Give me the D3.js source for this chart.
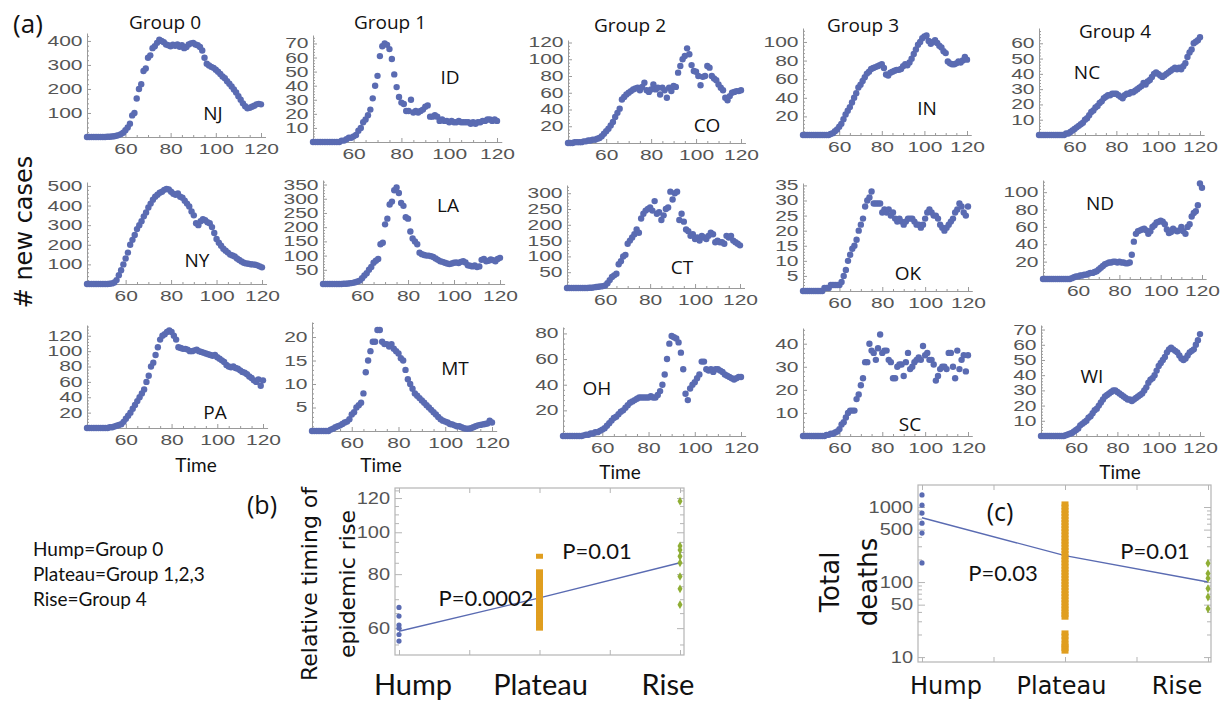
<!DOCTYPE html>
<html>
<head>
<meta charset="utf-8">
<script src="https://cdnjs.cloudflare.com/ajax/libs/d3/7.8.5/d3.min.js"></script>
<style>
  body { margin: 0; background: #fff; }
  svg { display: block; }
</style>
</head>
<body>
<svg id="chart" width="1221" height="702"></svg>
<script>
// ---- DATA: daily new cases, days 43..120 ----
const firstDay = 43, lastDay = 120;

const nj = [0,0,0,0,0,0,0,
  0,0,1,1,2,3,5,8,12,18,
  28,40,55,90,100,160,200,220,275,285,
  330,340,370,378,392,405,400,395,385,382,
  378,384,380,385,376,382,370,375,385,390,
  392,385,382,375,360,330,305,298,292,288,
  280,272,262,252,245,232,222,210,198,185,
  170,155,140,128,120,122,126,130,136,138,136];
const ny = [0,0,0,0,0,0,0,
  0,0,0,1,3,8,20,45,70,100,
  130,160,200,225,250,280,300,320,345,365,
  390,410,430,445,455,465,470,480,485,482,
  470,460,455,462,445,440,425,410,395,370,
  350,310,300,320,330,325,315,310,290,260,
  230,210,195,180,170,160,150,145,140,130,
  122,115,108,105,103,101,100,98,95,90,85];
const pa = [0,0,0,0,0,0,0,
  0,0,0,1,1,2,3,4,5,8,
  12,16,20,25,30,35,40,45,50,60,
  68,80,85,95,105,115,120,122,125,127,
  125,120,115,105,104,103,103,102,100,100,
  101,102,100,99,98,97,96,95,94,95,
  92,90,88,86,82,80,79,80,78,77,
  75,73,72,70,67,65,62,60,63,55,62];
const id = [0,0,0,0,0,0,0,
  0,0,0,0,0,1,1,2,3,3,
  4,5,8,10,14,16,19,23,31,40,
  47,61,68,70,69,66,59,48,39,32,
  28,27,22,22,30,21,22,21,22,23,
  25,26,18,18,19,18,15,16,15,15,
  14,15,14,14,15,14,14,14,14,13,
  14,13,14,14,15,15,16,16,15,16,15];
const la = [0,0,0,0,0,0,0,
  0,0,1,1,2,3,4,6,9,12,
  20,30,38,50,60,75,82,88,140,145,
  210,230,280,290,330,340,320,285,275,235,
  230,185,160,150,140,110,105,102,100,100,
  98,95,90,85,80,78,75,72,70,72,
  75,76,74,78,80,76,66,64,62,65,
  60,62,85,88,80,82,86,84,80,88,92];
const mt = [0,0,0,0,0,0,0,
  0,0.3,0.5,0.8,1,1.2,1.5,1.8,2,2.5,
  3.5,4,5,5.5,6,8,12.5,15,17,19,
  19,21.5,21.5,19,18.5,18.5,18,18.5,17.5,17,
  16.5,15.5,15,13,11,10,9,8,7.5,7,
  6.5,6,5.5,5,4.5,4,3.5,3,2.5,2.2,
  2,1.8,1.5,1.4,1.2,1,1,0.8,0.6,0.5,
  0.5,0.6,0.8,1,1.2,1.3,1.4,1.5,1.6,2.2,1.8];
const co = [0,0,0,1,1,1,1,
  2,2,3,3,4,4,5,6,8,11,
  14,17,21,25,31,36,41,52,55,58,
  60,62,64,65,66,63,67,72,63,61,
  64,70,64,66,58,66,63,54,66,62,
  68,67,84,92,100,104,113,106,93,86,
  85,80,69,79,80,92,90,80,77,75,
  70,66,63,54,51,56,60,61,62,62,63];
const ct = [0,0,0,0,0,0,0,
  0,0,0,1,1,2,3,4,5,6,
  8,15,25,35,40,45,75,85,100,105,
  140,150,160,170,185,175,220,235,245,250,
  255,245,275,235,240,215,230,250,255,305,
  280,300,305,215,235,210,185,180,165,170,
  155,160,150,165,160,155,165,175,170,145,
  150,145,145,140,165,160,165,150,145,140,135];
const oh = [0,0,0,0,0,0,0,
  0,0,0.5,1,1,2,2,3,3,4,
  5,6,8,10,12,14,15,17,19,20,
  22,24,26,27,28,29,30,30,30,30,
  30,31,30,30,32,35,40,48,60,72,
  78,77,76,73,65,52,33,28,37,40,
  42,45,48,58,58,52,51,52,50,52,
  52,51,50,48,47,46,45,44,45,46,46];
const ind = [0,0,0,0,0,0,0,
  0,0,0,0,0,0,1,2,4,6,
  9,12,17,22,26,30,35,40,45,51,
  54,58,62,66,68,71,72,73,74,75,
  76,72,65,64,67,68,69,70,70,71,
  74,76,75,78,82,87,92,97,100,104,
  106,107,101,98,100,102,99,96,94,90,
  88,79,77,76,76,77,79,78,80,84,81];
const ok = [0,0,0,0,0,0,0,
  0,0,0,1,1,1,2,2,2,2,
  2,3,5,7,10,12,14,15,17,20,
  22,24,28,30,31,33,29,29,29,29,
  26,27,26,27,25,26,24,23,24,23,
  22,23,24,24,24,23,22,22,21,22,
  24,26,27,26,25,25,24,22,21,20,
  21,22,23,24,26,27,29,28,26,25,28];
const sc = [0,0,0,0,0,0,0,
  0,0,0,0,0.5,0.5,1,1,1.5,2,
  3,5,6,8,10,11,11,11,16,18,
  22,25,32,32,40,37,36,33,38,44,
  36,37,37,33,32,25,25,30,31,31,
  26,32,36,29,30,32,33,34,33,39,
  35,36,33,33,31,24,26,29,30,30,
  29,36,36,30,25,37,29,33,35,28,35];
const nc = [0,0,0,0,0,0,0,
  0,0,0,0,0,0,1,1,2,3,
  4,5,6,7,8,10,11,13,15,16,
  18,19,21,22,24,25,26,26,27,27,
  27,26,25,24,26,27,27,28,28,29,
  30,31,32,34,33,35,36,38,40,41,
  40,39,38,39,40,41,42,43,44,43,
  44,43,45,47,51,54,56,60,61,62,64];
const nd = [0,0,0,0,0,0,0,
  0,0,0,0,0,0,0,1,2,3,
  3,4,4,5,5,6,7,7,8,9,
  11,13,15,17,18,19,19,20,20,19,
  20,19,19,18,18,19,28,43,52,55,
  56,57,58,56,52,55,60,62,65,66,
  67,66,63,57,53,54,58,56,55,56,
  60,55,52,60,63,72,76,78,85,110,105];
const wi = [0,0,0,0,0,0,0,
  0,0,0,0,0,0.5,1,1.5,2,3,
  4,5,7,8,9,10,12,13,15,17,
  18,20,22,24,26,27,28,29,30,30,
  29,28,27,26,25,24,24,23,24,25,
  26,27,28,30,32,35,37,38,40,43,
  46,48,50,52,55,57,58,57,56,55,
  53,51,50,51,53,55,56,57,60,63,67];

const groupNames = ['Group 0', 'Group 1', 'Group 2', 'Group 3', 'Group 4'];
const xTicks = [60, 80, 100, 120];

// (b) relative timing of epidemic rise
const categories = ['Hump', 'Plateau', 'Rise'];
const timingHump = [67, 64, 61, 60, 58, 56];
const timingPlateau = [60, 61, 62, 63, 64, 65, 66, 67, 68, 69, 70, 71, 72, 73, 74, 75, 76, 77, 78, 79, 80, 81, 88];
const timingRise = [118, 93, 91, 88, 85, 79, 74, 68];
const timingTrend = [59, 70.5, 85];
const timingTicks = [60, 80, 100, 120];
const timingP = ['P=0.0002', 'P=0.01'];

// (c) total deaths
const deathsHump = [1450, 1060, 830, 610, 450, 180];
const deathsPlateau = [12, 13, 14, 15, 17, 19, 21, 34, 37, 40, 44, 48, 53, 58, 64, 70, 77, 85, 93, 102, 112, 123, 135,
  148, 163, 180, 198, 218, 240, 264, 290, 320, 350, 385, 425, 470, 515, 565, 620, 680, 750, 825, 905, 1000, 1100];
const deathsRise = [178, 130, 112, 82, 63, 44];
const deathsTrend = [720, 225, 100];
const deathsTicks = [10, 50, 100, 500, 1000];
const deathsP = ['P=0.03', 'P=0.01'];

const legendLines = ['Hump=Group 0', 'Plateau=Group 1,2,3', 'Rise=Group 4'];

// ---- LAYOUT ----
const blue = '#5a6bb2', orange = '#e09e1f', green = '#8fae35';
const tickFont = '"Liberation Sans", Arial, sans-serif';
const labelFont = '"Open Sans", sans-serif';
const narrowFont = 'Lato, sans-serif';

const panels = [
  { st: 'NJ', v: nj, L: 87,   p120: 261,  T: 33,  B: 137, ymax: 433,  ticks: [100,200,300,400], lab: [213, 113] },
  { st: 'ID', v: id, L: 313,  p120: 497,  T: 35,  B: 142, ymax: 76,   ticks: [10,20,30,40,50,60,70], lab: [450, 77] },
  { st: 'CO', v: co, L: 568,  p120: 741,  T: 40,  B: 143, ymax: 123,  ticks: [20,40,60,80,100,120], lab: [707, 125] },
  { st: 'IN', v: ind, L: 803, p120: 967,  T: 28,  B: 135, ymax: 115,  ticks: [20,40,60,80,100], lab: [927, 108] },
  { st: 'NC', v: nc, L: 1039, p120: 1200, T: 28,  B: 135, ymax: 70,   ticks: [10,20,30,40,50,60], lab: [1087, 72] },
  { st: 'NY', v: ny, L: 87,   p120: 262,  T: 182, B: 284, ymax: 520,  ticks: [100,200,300,400,500], lab: [197, 260] },
  { st: 'LA', v: la, L: 323,  p120: 500,  T: 180, B: 284, ymax: 366,  ticks: [50,100,150,200,250,300,350], lab: [448, 205] },
  { st: 'CT', v: ct, L: 567,  p120: 740,  T: 185, B: 288, ymax: 326,  ticks: [50,100,150,200,250,300], lab: [682, 267] },
  { st: 'OK', v: ok, L: 803,  p120: 968,  T: 183, B: 291, ymax: 35.8, ticks: [5,10,15,20,25,30,35], lab: [908, 273] },
  { st: 'ND', v: nd, L: 1043, p120: 1202, T: 180, B: 279, ymax: 114,  ticks: [20,40,60,80,100], lab: [1100, 203] },
  { st: 'PA', v: pa, L: 87,   p120: 263,  T: 325, B: 428, ymax: 134,  ticks: [20,40,60,80,100,120], lab: [215, 412] },
  { st: 'MT', v: mt, L: 312,  p120: 492,  T: 322, B: 431, ymax: 23.2, ticks: [5,10,15,20], lab: [455, 368] },
  { st: 'OH', v: oh, L: 563,  p120: 741,  T: 327, B: 436, ymax: 85,   ticks: [20,40,60,80], lab: [597, 388] },
  { st: 'SC', v: sc, L: 803,  p120: 968,  T: 328, B: 436, ymax: 46.8, ticks: [10,20,30,40], lab: [910, 424] },
  { st: 'WI', v: wi, L: 1041, p120: 1200, T: 325, B: 436, ymax: 73,   ticks: [10,20,30,40,50,60,70], lab: [1092, 376] }
];

const svg = d3.select('#chart');
svg.append('rect').attr('width', 1221).attr('height', 702).attr('fill', '#fff');

const days = d3.range(firstDay, lastDay + 1);

// the source figure is stretched sideways: tick numbers are wide and short
function styleTicks(g, size, stretch) {
  g.selectAll('text')
    .attr('fill', '#555').attr('font-family', tickFont).attr('font-size', size)
    .attr('transform', `scale(${stretch},1)`);
  g.selectAll('g').attr('font-family', null).attr('font-size', null);
}

// ---- SMALL MULTIPLES ----
panels.forEach(p => {
  const x = d3.scaleLinear().domain([firstDay, lastDay]).range([p.L, p.p120]);
  const xa = x.copy().domain([firstDay, 122]).range([p.L, x(122)]);
  const y = d3.scaleLinear().domain([0, p.ymax]).range([p.B, p.T]);
  const g = svg.append('g');

  // minor ticks
  const yStep = p.ticks[1] - p.ticks[0];
  const yMinor = d3.range(yStep / 5, p.ymax, yStep / 5).filter(v => !p.ticks.some(t => Math.abs(t - v) < 1e-6));
  g.append('g').attr('transform', `translate(${p.L},0)`)
    .call(d3.axisLeft(y).tickValues(yMinor).tickFormat('').tickSizeInner(-2).tickSizeOuter(0))
    .call(a => a.select('.domain').remove());
  g.append('g').attr('transform', `translate(0,${p.B})`)
    .call(d3.axisBottom(xa).tickValues(d3.range(45, 122, 5).filter(d => d % 20 !== 0)).tickFormat('').tickSizeInner(-2).tickSizeOuter(0))
    .call(a => a.select('.domain').remove());

  // major axes
  g.append('g').attr('transform', `translate(0,${p.B})`)
    .call(d3.axisBottom(xa).tickValues(xTicks).tickSizeInner(-4).tickSizeOuter(0).tickPadding(7));
  g.append('g').attr('transform', `translate(${p.L},0)`)
    .call(d3.axisLeft(y).tickValues(p.ticks).tickSizeInner(-4).tickSizeOuter(0).tickPadding(3));

  g.selectAll('.tick line, .domain').attr('stroke', '#9a9a9a');
  styleTicks(g, 14, 1.5);

  g.append('g').selectAll('circle')
    .data(p.v.map((v, i) => [days[i], v]))
    .enter().append('circle')
    .attr('cx', d => x(d[0]))
    .attr('cy', d => y(d[1]))
    .attr('r', 3.2)
    .attr('fill', blue);

  svg.append('text')
    .attr('x', p.lab[0]).attr('y', p.lab[1])
    .attr('text-anchor', 'middle').attr('dominant-baseline', 'central')
    .attr('font-family', labelFont).attr('font-size', 19).attr('fill', '#111')
    .text(p.st);
});

// group headers
const groupPos = [[165, 22], [390, 22], [630, 25], [863, 25], [1115, 31]];
groupNames.forEach((n, i) => {
  svg.append('text').attr('x', groupPos[i][0]).attr('y', groupPos[i][1])
    .attr('text-anchor', 'middle').attr('dominant-baseline', 'central')
    .attr('font-family', labelFont).attr('font-size', 19).attr('fill', '#111').text(n);
});

// "Time" labels
[[196, 464], [381, 464], [620, 471], [1120, 471]].forEach(t => {
  svg.append('text').attr('x', t[0]).attr('y', t[1])
    .attr('text-anchor', 'middle').attr('dominant-baseline', 'central')
    .attr('font-family', narrowFont).attr('font-size', 19).attr('fill', '#111').text('Time');
});

svg.append('text').attr('x', 28).attr('y', 23)
  .attr('text-anchor', 'middle').attr('dominant-baseline', 'central')
  .attr('font-family', labelFont).attr('font-size', 26).attr('fill', '#111').text('(a)');

svg.append('text').attr('transform', 'translate(24,232) rotate(-90)')
  .attr('text-anchor', 'middle').attr('dominant-baseline', 'central')
  .attr('font-family', 'DejaVu Sans, sans-serif').attr('font-size', 24).attr('fill', '#111').text('# new cases');

// legend text
legendLines.forEach((t, i) => {
  svg.append('text').attr('x', 33).attr('y', 548 + i * 25)
    .attr('dominant-baseline', 'central')
    .attr('font-family', narrowFont).attr('font-size', 19).attr('fill', '#111').text(t);
});

// ---- (b) and (c) ----
function groupPanel(opt) {
  const g = svg.append('g');
  const x = d3.scaleLinear().domain([1, 3]).range(opt.xr);
  const y = d3.scaleLog().domain(opt.yd).range([opt.B, opt.T]);
  const W = opt.R - opt.L;

  g.append('rect').attr('x', opt.L).attr('y', opt.T).attr('width', W).attr('height', opt.B - opt.T)
    .attr('fill', 'none').attr('stroke', '#b5b5b5').attr('stroke-width', 1.2);

  const mk = (axis, tr) => g.append('g').attr('transform', tr).call(axis).call(a => a.select('.domain').remove());
  mk(d3.axisLeft(y).tickValues(opt.ticks).tickFormat(d3.format('d')).tickSizeInner(-7).tickPadding(4), `translate(${opt.L},0)`);
  mk(d3.axisLeft(y).tickValues(opt.minor).tickFormat('').tickSizeInner(-4), `translate(${opt.L},0)`);
  mk(d3.axisRight(y).tickValues(opt.ticks).tickFormat('').tickSizeInner(-7), `translate(${opt.R},0)`);
  mk(d3.axisRight(y).tickValues(opt.minor).tickFormat('').tickSizeInner(-4), `translate(${opt.R},0)`);
  mk(d3.axisBottom(x).tickValues([1, 1.5, 2, 2.5, 3]).tickFormat('').tickSizeInner(-5), `translate(0,${opt.B})`);
  mk(d3.axisTop(x).tickValues([1, 1.5, 2, 2.5, 3]).tickFormat('').tickSizeInner(-5), `translate(0,${opt.T})`);
  g.selectAll('.tick line').attr('stroke', '#b5b5b5');
  styleTicks(g, 16, 1.25);

  // trend line
  g.append('path').datum(opt.trend)
    .attr('d', d3.line().x((d, i) => x(i + 1)).y(d => y(d)))
    .attr('fill', 'none').attr('stroke', blue).attr('stroke-width', 1.4);

  g.selectAll('.hump').data(opt.hump).enter().append('circle')
    .attr('cx', x(1)).attr('cy', d => y(d)).attr('r', 2.6).attr('fill', blue);
  g.selectAll('.plat').data(opt.plateau).enter().append('rect')
    .attr('x', x(2) - 3.5).attr('y', d => y(d) - 2.5).attr('width', 7).attr('height', 5).attr('fill', orange);
  g.selectAll('.rise').data(opt.rise).enter().append('path')
    .attr('transform', d => `translate(${x(3)},${y(d)})`)
    .attr('d', d3.symbol().type(d3.symbolDiamond).size(22)).attr('fill', green);

  // category labels
  const lx = d3.scaleLinear().domain([1, 3]).range(opt.labR);
  categories.forEach((c, i) => {
    g.append('text').attr('x', lx(i + 1)).attr('y', opt.labY)
      .attr('text-anchor', 'middle').attr('dominant-baseline', 'central')
      .attr('font-family', opt.labFont).attr('font-size', opt.labSize).attr('fill', '#111').text(c);
  });
  opt.pText.forEach((t, i) => {
    g.append('text').attr('x', opt.pPos[i][0]).attr('y', opt.pPos[i][1])
      .attr('text-anchor', 'middle').attr('dominant-baseline', 'central')
      .attr('font-family', narrowFont).attr('font-size', 22).attr('fill', '#111').text(t);
  });
  return g;
}

groupPanel({
  L: 395, R: 684, T: 488, B: 655, xr: [399, 680], yd: [52, 126.6],
  ticks: timingTicks, minor: [55, 65, 70, 75, 85, 90, 95, 105, 110, 115, 125],
  trend: timingTrend, hump: timingHump, plateau: timingPlateau, rise: timingRise,
  labR: [413, 668], labY: 683, labFont: narrowFont, labSize: 29,
  pText: timingP, pPos: [[486, 597], [597, 550]]
});

groupPanel({
  L: 918, R: 1211, T: 485, B: 662, xr: [922, 1208], yd: [8.6, 1966],
  ticks: deathsTicks, minor: [20, 30, 40, 60, 70, 80, 90, 200, 300, 400, 600, 700, 800, 900],
  trend: deathsTrend, hump: deathsHump, plateau: deathsPlateau, rise: deathsRise,
  labR: [946, 1177], labY: 686, labFont: 'DejaVu Sans, sans-serif', labSize: 24,
  pText: deathsP, pPos: [[1003, 572], [1155, 550]]
});

svg.append('text').attr('x', 262).attr('y', 504)
  .attr('text-anchor', 'middle').attr('dominant-baseline', 'central')
  .attr('font-family', labelFont).attr('font-size', 25).attr('fill', '#111').text('(b)');
svg.append('text').attr('x', 1000).attr('y', 511)
  .attr('text-anchor', 'middle').attr('dominant-baseline', 'central')
  .attr('font-family', labelFont).attr('font-size', 25).attr('fill', '#111').text('(c)');

[['Relative timing of', 309], ['epidemic rise', 347]].forEach(t => {
  svg.append('text').attr('transform', `translate(${t[1]},584) rotate(-90)`)
    .attr('text-anchor', 'middle').attr('dominant-baseline', 'central')
    .attr('font-family', 'DejaVu Sans, sans-serif').attr('font-size', 22).attr('fill', '#111').text(t[0]);
});
[['Total', 830], ['deaths', 868]].forEach(t => {
  svg.append('text').attr('transform', `translate(${t[1]},582) rotate(-90)`)
    .attr('text-anchor', 'middle').attr('dominant-baseline', 'central')
    .attr('font-family', 'DejaVu Sans, sans-serif').attr('font-size', 26).attr('fill', '#111').text(t[0]);
});
</script>
</body>
</html>
